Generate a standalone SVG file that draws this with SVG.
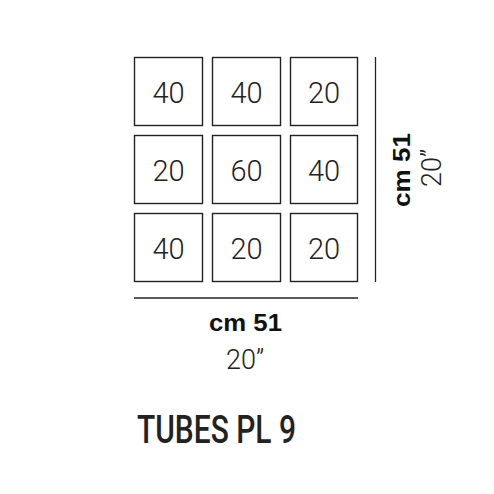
<svg xmlns="http://www.w3.org/2000/svg" width="494" height="494" viewBox="0 0 494 494">
<style>
.box{fill:#fff;stroke:#222;stroke-width:1.4}
.num{font-family:Roboto,"Liberation Sans",sans-serif;font-weight:300;font-size:29px;fill:#222;text-anchor:middle}
.dimb{font-family:"Liberation Sans",Arial,sans-serif;font-weight:bold;font-size:24px;fill:#111;text-anchor:middle}
.diml{font-family:Roboto,"Liberation Sans",sans-serif;font-weight:300;font-size:27px;fill:#222;text-anchor:middle}
.title{font-family:Roboto,"Liberation Sans",sans-serif;font-weight:500;font-size:39px;fill:#222}
.dline{stroke:#222;stroke-width:1.3;fill:none}
</style>
<rect width="494" height="494" fill="#fff"/>
<g id="b1"><rect class="box" x="134.5" y="57.5" width="68" height="68"/><text class="num" x="168.5" y="103">40</text></g>
<g id="b2"><rect class="box" x="212.5" y="57.5" width="68" height="68"/><text class="num" x="246.5" y="103">40</text></g>
<g id="b3"><rect class="box" x="290.5" y="57.5" width="67" height="68"/><text class="num" x="324" y="103">20</text></g>
<g id="b4"><rect class="box" x="134.5" y="135.5" width="68" height="68"/><text class="num" x="168.5" y="181">20</text></g>
<g id="b5"><rect class="box" x="212.5" y="135.5" width="68" height="68"/><text class="num" x="246.5" y="181">60</text></g>
<g id="b6"><rect class="box" x="290.5" y="135.5" width="67" height="68"/><text class="num" x="324" y="181">40</text></g>
<g id="b7"><rect class="box" x="134.5" y="213.5" width="68" height="68"/><text class="num" x="168.5" y="259">40</text></g>
<g id="b8"><rect class="box" x="212.5" y="213.5" width="68" height="68"/><text class="num" x="246.5" y="259">20</text></g>
<g id="b9"><rect class="box" x="290.5" y="213.5" width="67" height="68"/><text class="num" x="324" y="259">20</text></g>
<g id="connectors">
<line class="dline" x1="134" y1="298" x2="358" y2="298"/>
<line class="dline" x1="375.5" y1="57" x2="375.5" y2="282"/>
</g>
<g id="dims">
<text class="dimb" x="245.5" y="331" textLength="73" lengthAdjust="spacingAndGlyphs">cm 51</text>
<text class="diml" x="245" y="369">20”</text>
<text class="dimb" transform="translate(410,170) rotate(-90)" textLength="74" lengthAdjust="spacingAndGlyphs">cm 51</text>
<text class="diml" transform="translate(441,168) rotate(-90)">20”</text>
</g>
<text class="title" x="137" y="443" textLength="159" lengthAdjust="spacingAndGlyphs">TUBES PL 9</text>
</svg>
